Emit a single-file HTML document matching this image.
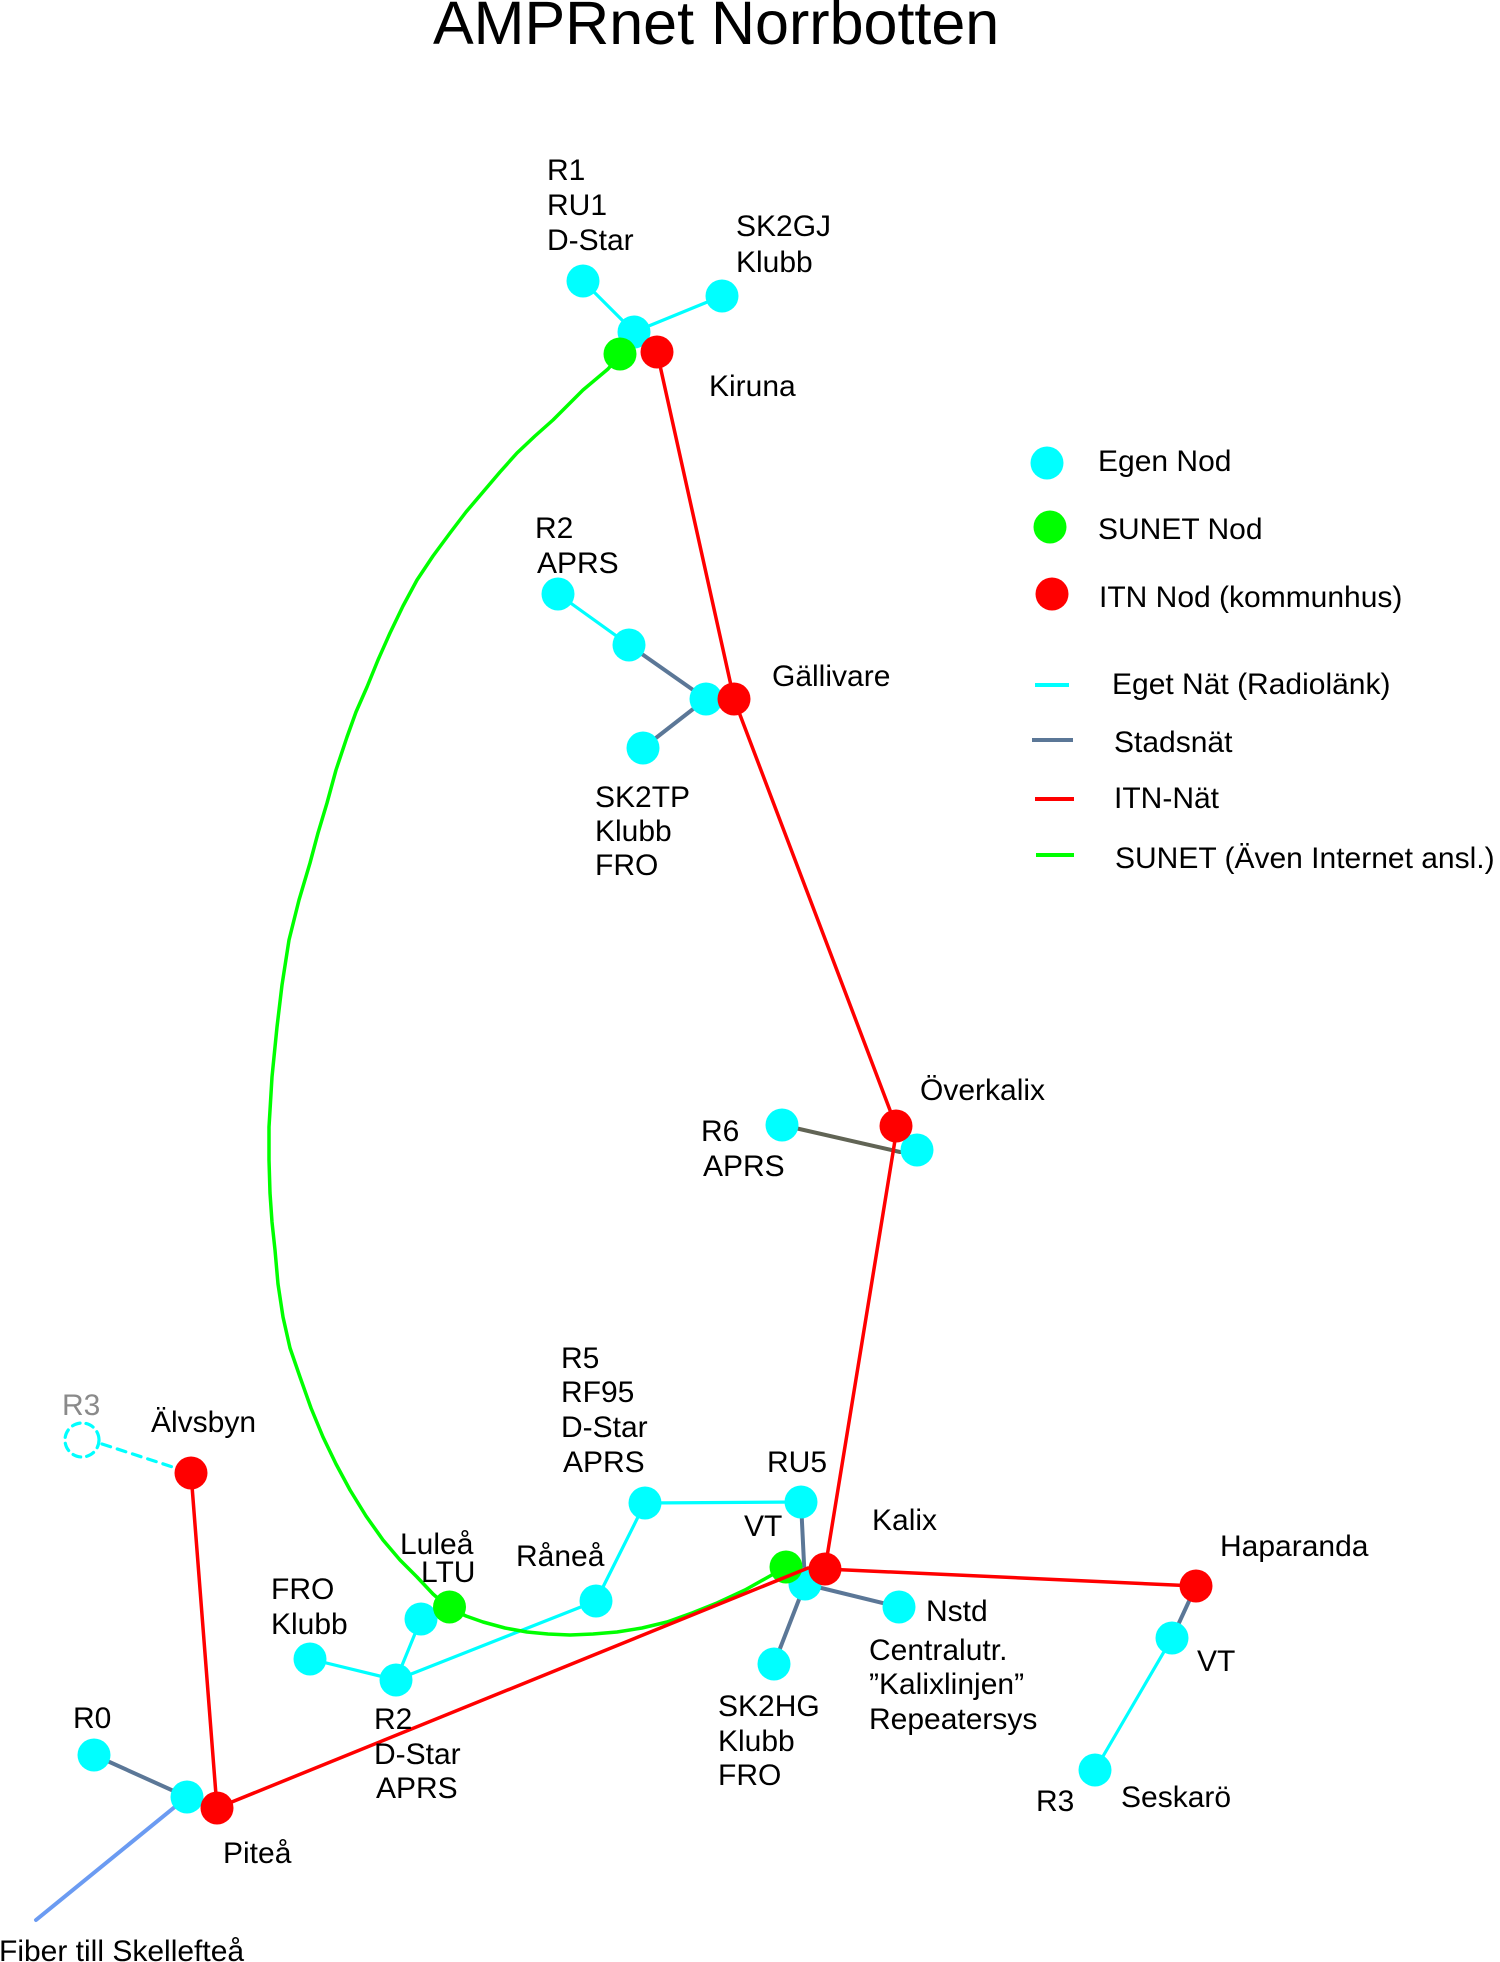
<!DOCTYPE html>
<html>
<head>
<meta charset="utf-8">
<style>
  html,body{margin:0;padding:0;background:#fff;}
  svg{display:block;}
  text{font-family:"Liberation Sans", Arial, sans-serif; font-size:30px; fill:#000;}
</style>
</head>
<body>
<svg width="1500" height="1962" viewBox="0 0 1500 1962" xmlns="http://www.w3.org/2000/svg">
  <rect x="0" y="0" width="1500" height="1962" fill="#fff"/>

  <!-- Title -->
  <text x="433" y="44" style="font-size:61px">AMPRnet Norrbotten</text>

  <!-- ===== Cyan / steel lines (under nodes) ===== -->
  <g stroke-linecap="round" fill="none">
    <!-- Kiruna -->
    <line x1="583" y1="281" x2="634" y2="332" stroke="#00ffff" stroke-width="3.2"/>
    <line x1="634" y1="332" x2="722" y2="296" stroke="#00ffff" stroke-width="3.2"/>
    <!-- Gällivare -->
    <line x1="558" y1="594" x2="629" y2="645" stroke="#00ffff" stroke-width="3.2"/>
    <line x1="629" y1="645" x2="706" y2="699" stroke="#5b7797" stroke-width="4"/>
    <line x1="706" y1="699" x2="643" y2="748" stroke="#5b7797" stroke-width="4"/>
    <!-- Överkalix R6 -->
    <line x1="782" y1="1125" x2="900" y2="1152" stroke="#616455" stroke-width="4"/>
    <!-- Luleå / Råneå network -->
    <line x1="310" y1="1659" x2="396" y2="1680" stroke="#00ffff" stroke-width="3.2"/>
    <line x1="396" y1="1680" x2="421" y2="1619" stroke="#00ffff" stroke-width="3.2"/>
    <line x1="396" y1="1680" x2="596" y2="1601" stroke="#00ffff" stroke-width="3.2"/>
    <line x1="596" y1="1601" x2="645" y2="1503" stroke="#00ffff" stroke-width="3.2"/>
    <line x1="645" y1="1503" x2="801" y2="1502" stroke="#00ffff" stroke-width="3.2"/>
    <!-- Kalix steel -->
    <line x1="801" y1="1502" x2="805" y2="1584" stroke="#5b7797" stroke-width="4"/>
    <line x1="805" y1="1584" x2="899" y2="1607" stroke="#5b7797" stroke-width="4"/>
    <line x1="805" y1="1584" x2="774" y2="1664" stroke="#5b7797" stroke-width="4"/>
    <!-- Haparanda -->
    <line x1="1196" y1="1586" x2="1172" y2="1638" stroke="#5b7797" stroke-width="4"/>
    <line x1="1172" y1="1638" x2="1095" y2="1770" stroke="#00ffff" stroke-width="3.2"/>
    <!-- Piteå -->
    <line x1="94" y1="1755" x2="187" y2="1797" stroke="#5b7797" stroke-width="4"/>
    <line x1="187" y1="1797" x2="36" y2="1920" stroke="#6b9bf2" stroke-width="4"/>
    <!-- Älvsbyn dashed -->
    <line x1="102" y1="1444" x2="191" y2="1473" stroke="#00ffff" stroke-width="3.2" stroke-dasharray="9,7"/>
    <circle cx="82" cy="1440" r="17" stroke="#00ffff" stroke-width="3.2" stroke-dasharray="8,6" fill="none"/>
  </g>

  <!-- ===== Cyan nodes ===== -->
  <g fill="#00ffff">
    <circle cx="583" cy="281" r="16.5"/>
    <circle cx="722" cy="296" r="16.5"/>
    <circle cx="634" cy="332" r="16.5"/>
    <circle cx="558" cy="594" r="16.5"/>
    <circle cx="629" cy="645" r="16.5"/>
    <circle cx="706" cy="699" r="16.5"/>
    <circle cx="643" cy="748" r="16.5"/>
    <circle cx="782" cy="1125" r="16.5"/>
    <circle cx="917" cy="1150" r="16.5"/>
    <circle cx="645" cy="1503" r="16.5"/>
    <circle cx="801" cy="1502" r="16.5"/>
    <circle cx="596" cy="1601" r="16.5"/>
    <circle cx="421" cy="1619" r="16.5"/>
    <circle cx="310" cy="1659" r="16.5"/>
    <circle cx="396" cy="1680" r="16.5"/>
    <circle cx="805" cy="1584" r="16.5"/>
    <circle cx="899" cy="1607" r="16.5"/>
    <circle cx="774" cy="1664" r="16.5"/>
    <circle cx="1172" cy="1638" r="16.5"/>
    <circle cx="1095" cy="1770" r="16.5"/>
    <circle cx="94" cy="1755" r="16.5"/>
    <circle cx="187" cy="1797" r="16.5"/>
  </g>

  <!-- ===== Green SUNET curve ===== -->
  <polyline fill="none" stroke="#00ff00" stroke-width="3.5" stroke-linejoin="round" stroke-linecap="round"
    points="620,355 608,369 583,390 568,405 553,420 535,436 517,453 500,472 483,492 466,512 450,533 433,556 417,580 403,606 390,633 378,660 367,687 356,712 347,737 336,770 327,803 318,833 310,863 299,900 289,940 282,985 277,1027 272,1077 269,1127 269,1160 270,1193 272,1222 275,1250 278,1284 283,1317 290,1348 300,1377 311,1408 323,1437 336,1464 350,1490 366,1516 383,1540 400,1560 417,1577 433,1594 449,1608 466,1616 483,1622 505,1628 527,1632 548,1634 570,1635 593,1634 617,1632 642,1628 667,1622 692,1613 717,1603 745,1590 770,1576 786,1567"/>

  <!-- ===== Green nodes ===== -->
  <g fill="#00ff00">
    <circle cx="620" cy="354" r="16.5"/>
    <circle cx="449.5" cy="1607" r="16.5"/>
    <circle cx="786" cy="1567" r="16.5"/>
  </g>

  <!-- ===== Red ITN lines ===== -->
  <g stroke="#ff0000" stroke-width="3.5" stroke-linecap="round" fill="none">
    <line x1="657" y1="352" x2="734" y2="699"/>
    <line x1="734" y1="699" x2="896" y2="1126"/>
    <line x1="897" y1="1128" x2="825" y2="1569"/>
    <line x1="825" y1="1569" x2="1196" y2="1586"/>
    <line x1="217" y1="1808" x2="808" y2="1568"/>
    <line x1="191" y1="1473" x2="217" y2="1808"/>
  </g>

  <!-- ===== Red nodes ===== -->
  <g fill="#ff0000">
    <circle cx="657" cy="352" r="16.5"/>
    <circle cx="734" cy="699" r="16.5"/>
    <circle cx="896" cy="1126" r="16.5"/>
    <circle cx="825" cy="1569" r="16.5"/>
    <circle cx="1196" cy="1586" r="16.5"/>
    <circle cx="191" cy="1473" r="16.5"/>
    <circle cx="217" cy="1808" r="16.5"/>
  </g>

  <!-- ===== Legend ===== -->
  <circle cx="1047" cy="463" r="16.5" fill="#00ffff"/>
  <circle cx="1050" cy="527" r="16.5" fill="#00ff00"/>
  <circle cx="1052" cy="594" r="16.5" fill="#ff0000"/>
  <text x="1098" y="471">Egen Nod</text>
  <text x="1098" y="539">SUNET Nod</text>
  <text x="1099" y="607">ITN Nod (kommunhus)</text>
  <line x1="1035" y1="685" x2="1069" y2="685" stroke="#00ffff" stroke-width="4"/>
  <line x1="1032" y1="740" x2="1073" y2="740" stroke="#5b7797" stroke-width="4"/>
  <line x1="1035" y1="799" x2="1074" y2="799" stroke="#ff0000" stroke-width="4"/>
  <line x1="1036" y1="855" x2="1074" y2="855" stroke="#00ff00" stroke-width="4"/>
  <text x="1112" y="694">Eget Nät (Radiolänk)</text>
  <text x="1114" y="752">Stadsnät</text>
  <text x="1114" y="808">ITN-Nät</text>
  <text x="1115" y="868">SUNET (Även Internet ansl.)</text>

  <!-- ===== Labels ===== -->
  <!-- Kiruna -->
  <text x="547" y="180">R1</text>
  <text x="547" y="215">RU1</text>
  <text x="547" y="250">D-Star</text>
  <text x="736" y="236">SK2GJ</text>
  <text x="736" y="272">Klubb</text>
  <text x="709" y="396">Kiruna</text>

  <!-- Gällivare -->
  <text x="535" y="538">R2</text>
  <text x="537" y="573">APRS</text>
  <text x="772" y="686">Gällivare</text>
  <text x="595" y="807">SK2TP</text>
  <text x="595" y="841">Klubb</text>
  <text x="595" y="875">FRO</text>

  <!-- Överkalix -->
  <text x="920" y="1100">Överkalix</text>
  <text x="701" y="1141">R6</text>
  <text x="703" y="1176">APRS</text>

  <!-- Kalix area -->
  <text x="561" y="1368">R5</text>
  <text x="561" y="1402">RF95</text>
  <text x="561" y="1437">D-Star</text>
  <text x="563" y="1472">APRS</text>
  <text x="767" y="1472">RU5</text>
  <text x="744" y="1536">VT</text>
  <text x="872" y="1530">Kalix</text>
  <text x="926" y="1621">Nstd</text>
  <text x="869" y="1660">Centralutr.</text>
  <text x="869" y="1694">”Kalixlinjen”</text>
  <text x="869" y="1729">Repeatersys</text>
  <text x="718" y="1716">SK2HG</text>
  <text x="718" y="1751">Klubb</text>
  <text x="718" y="1785">FRO</text>

  <!-- Haparanda -->
  <text x="1220" y="1556">Haparanda</text>
  <text x="1197" y="1671">VT</text>
  <text x="1036" y="1811">R3</text>
  <text x="1121" y="1807">Seskarö</text>

  <!-- Luleå / Piteå -->
  <text x="62" y="1415" style="fill:#8a8a8a">R3</text>
  <text x="151" y="1432">Älvsbyn</text>
  <text x="400" y="1554">Luleå</text>
  <text x="421" y="1582">LTU</text>
  <text x="516" y="1566">Råneå</text>
  <text x="271" y="1599">FRO</text>
  <text x="271" y="1634">Klubb</text>
  <text x="73" y="1728">R0</text>
  <text x="374" y="1729">R2</text>
  <text x="374" y="1764">D-Star</text>
  <text x="376" y="1798">APRS</text>
  <text x="223" y="1863">Piteå</text>
  <text x="-1" y="1961">Fiber till Skellefteå</text>
</svg>
</body>
</html>
